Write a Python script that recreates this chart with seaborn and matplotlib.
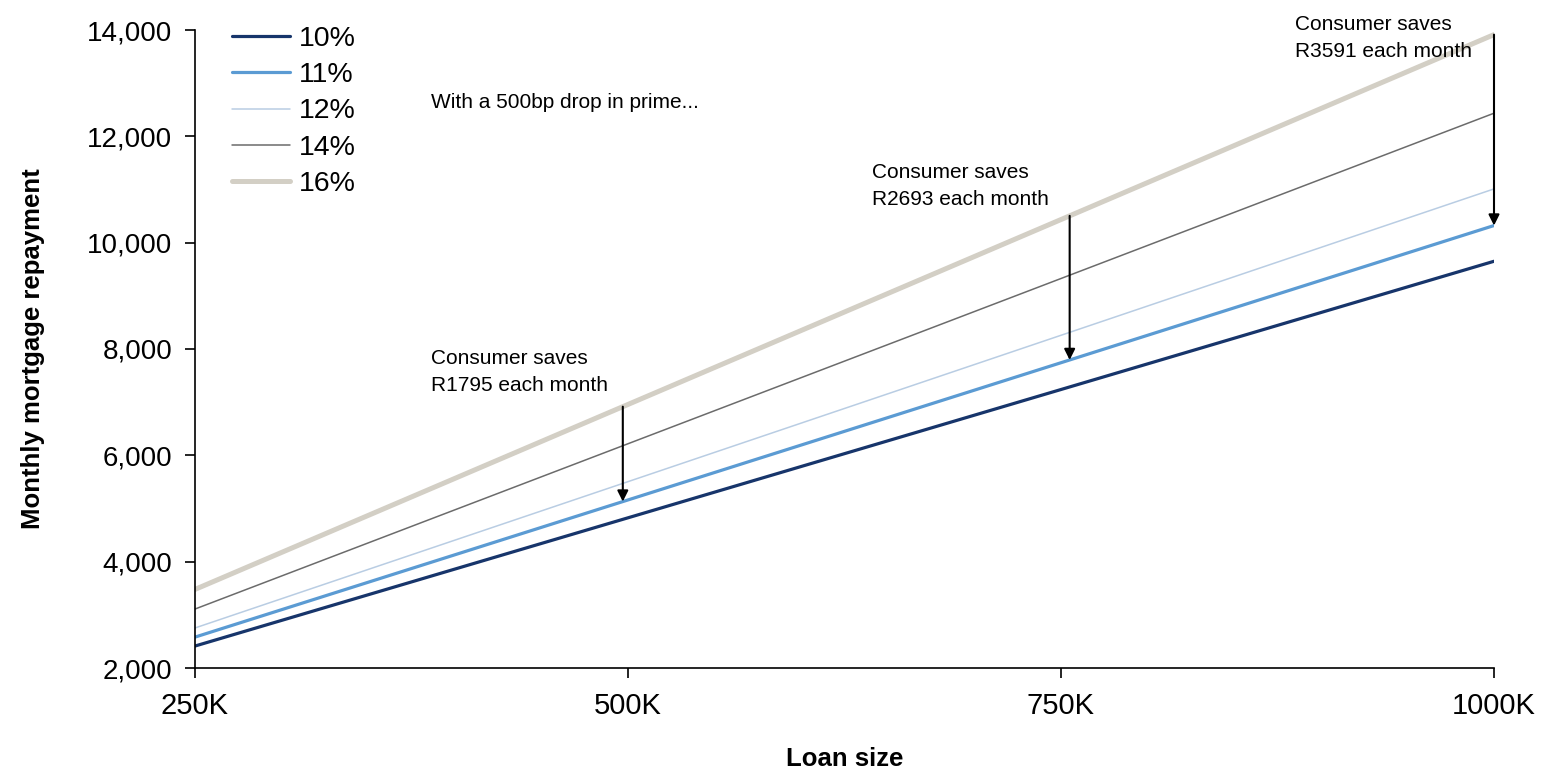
import numpy as np
import pandas as pd
import matplotlib
matplotlib.use("Agg")
import matplotlib.pyplot as plt
import seaborn as sns

# Loan sizes (thousands of rand) and monthly repayments per prime rate
loan_k = [250, 500, 750, 1000]
tick_labels = ["250K", "500K", "750K", "1000K"]
rate_10 = [2413, 4825, 7238, 9650]
rate_11 = [2581, 5161, 7742, 10322]
rate_12 = [2753, 5505, 8258, 11011]
rate_14 = [3109, 6218, 9326, 12435]
rate_16 = [3478, 6957, 10435, 13913]
rates = ["10%", "11%", "12%", "14%", "16%"]

# Savings call-outs: loan size where the arrow sits and the stated saving
saving_x = [497, 755, 1000]
saving_text = ["R1795", "R2693", "R3591"]

series = dict(zip(rates, [rate_10, rate_11, rate_12, rate_14, rate_16]))
df = pd.DataFrame(
    [(k, r, v) for r, vals in series.items() for k, v in zip(loan_k, vals)],
    columns=["loan", "rate", "payment"],
)

sns.set_theme(style="white")
plt.rcParams["font.family"] = ["Liberation Sans", "DejaVu Sans"]
plt.rcParams["text.color"] = "black"
plt.rcParams["axes.labelcolor"] = "black"

colors = {"10%": "#17356B", "11%": "#5B9BD3", "12%": "#B9CDE3",
          "14%": "#6B6B6B", "16%": "#D3CFC5"}
widths = {"10%": 2.3, "11%": 2.3, "12%": 1.1, "14%": 1.1, "16%": 3.6}

fig = plt.figure(figsize=(15.44, 7.69), dpi=100)
ax = fig.add_axes([195 / 1544, 1 - 668 / 769, 1299 / 1544, 638 / 769])

# Draw in reverse so the thin, dark lines sit on top
for r in rates[::-1]:
    sub = df[df["rate"] == r]
    sns.lineplot(data=sub, x="loan", y="payment", ax=ax, color=colors[r],
                 linewidth=widths[r], label=r, legend=False)

ax.set_xlim(250, 1000)
ax.set_ylim(2000, 14000)
ax.set_xticks(loan_k)
ax.set_xticklabels(tick_labels)
ax.set_yticks(np.arange(2000, 14001, 2000))
ax.yaxis.set_major_formatter(matplotlib.ticker.StrMethodFormatter("{x:,.0f}"))

for s in ["top", "right"]:
    ax.spines[s].set_visible(False)
for s in ["left", "bottom"]:
    ax.spines[s].set_color("black")
    ax.spines[s].set_linewidth(1.2)

ax.tick_params(axis="both", which="major", direction="out", length=7,
               width=1.2, color="black", labelcolor="black",
               bottom=True, left=True)
ax.tick_params(axis="x", pad=10, labelsize=21)
ax.tick_params(axis="y", pad=9.5, labelsize=20)

ax.set_xlabel("Loan size", fontsize=18.5, fontweight="bold", labelpad=20,
              color="black")
ax.set_ylabel("Monthly mortgage repayment", fontsize=18.5, fontweight="bold",
              labelpad=30, color="black")

handles = [plt.Line2D([], [], color=colors[r], linewidth=widths[r]) for r in rates]
leg = ax.legend(handles, rates, loc="upper left",
                bbox_to_anchor=(232 / 1544, 1 - 26 / 769),
                bbox_transform=fig.transFigure, frameon=False, fontsize=20.5,
                handlelength=2.05, handletextpad=0.3, labelspacing=0.36,
                borderpad=0, borderaxespad=0)
for t in leg.get_texts():
    t.set_color("black")

ax.text(386, 12630, "With a 500bp drop in prime...", fontsize=15, va="center",
        ha="left", color="black")

text_pos = [(386, 8000), (641, 11500), (885, 14285)]
for xs, txt, (tx, ty) in zip(saving_x, saving_text, text_pos):
    y_hi = np.interp(xs, loan_k, rate_16)
    y_lo = np.interp(xs, loan_k, rate_11)
    ax.annotate("", xy=(xs, y_lo), xytext=(xs, y_hi),
                arrowprops=dict(arrowstyle="-|>", color="black", lw=1.5,
                                mutation_scale=16, shrinkA=0, shrinkB=0),
                annotation_clip=False)
    ax.text(tx, ty, f"Consumer saves\n{txt} each month", fontsize=15,
            va="top", ha="left", linespacing=1.55, color="black", clip_on=False)

fig.savefig("out.png", dpi=100)
